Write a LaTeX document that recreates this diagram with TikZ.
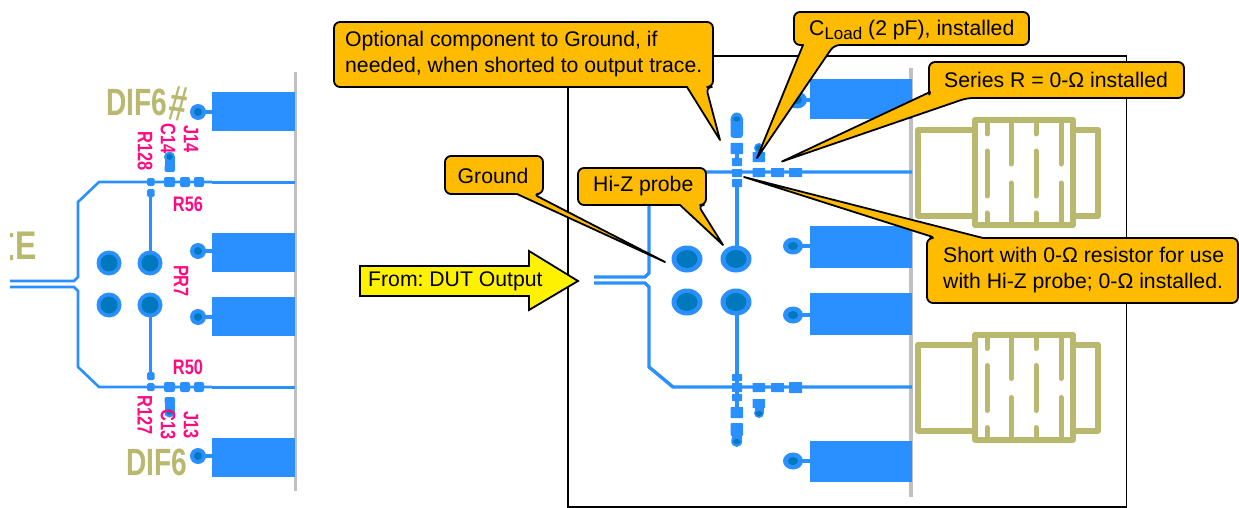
\documentclass[tikz,border=0pt]{standalone}
\usepackage{fontspec}
\setmainfont{Liberation Sans}
\definecolor{trace}{HTML}{2B90FF}
\definecolor{viain}{HTML}{0078BE}
\definecolor{khaki}{HTML}{B8B86E}
\definecolor{refpink}{HTML}{FF0A80}
\definecolor{calloutfill}{HTML}{FFBB00}
\definecolor{edgegray}{HTML}{C0C0C0}
\newcommand{\pcbpad}[3]{\fill[trace,rounded corners=#1] #2 rectangle #3;}
\newcommand{\bigvia}[2]{\fill[trace] (#1,#2) ellipse [x radius=15.5,y radius=13.5];\fill[viain] (#1,#2) ellipse [x radius=10.5,y radius=9];}
\newcommand{\smallvia}[2]{\fill[trace] (#1,#2) ellipse [x radius=10,y radius=8.5];\fill[trace] (#1,#2-2) rectangle (#1+18,#2+2);\fill[viain] (#1,#2) ellipse [x radius=5,y radius=4];}
\newcommand{\leftvia}[2]{\fill[trace] (#1,#2) circle (12.5);\fill[viain] (#1,#2) circle (8.5);}
\newcommand{\leftsmall}[2]{\fill[trace] (#1,#2) circle (8);\fill[trace] (#1,#2-2) rectangle (#1+15,#2+2);\fill[viain] (#1,#2) circle (4);}
\newcommand{\jack}[1]{
 \begin{scope}[yshift=-#1pt]
 \draw[khaki,line width=6pt,line join=round] (972,130)--(918,130)--(918,216)--(972,216);
 \draw[khaki,line width=6pt,line join=round] (1076,130)--(1098,130)--(1098,216)--(1076,216);
 \draw[khaki,line width=6pt,line join=round] (975,120) rectangle (1073,225);
 \draw[khaki,line width=5pt,line cap=round] (987,122)--(987,134) (987,151)--(987,196) (987,213)--(987,223)
   (1036,122)--(1036,134) (1036,151)--(1036,196) (1036,213)--(1036,223);
 \draw[khaki,line width=5pt,line cap=round] (1011,122)--(1011,164) (1011,183)--(1011,223)
   (1061,122)--(1061,164) (1061,183)--(1061,223);
 \end{scope}}
\tikzset{
 tr/.style={trace,line width=#1,line join=miter},
 tr/.default=2.6pt,
 refdes/.style={text=refpink,inner sep=0pt,font=\bfseries\fontsize{21}{21}\selectfont,xscale=0.78,transform shape},
 silk/.style={text=khaki,inner sep=0pt,transform shape},
 bubble/.style={draw=black,line width=1.8pt,fill=calloutfill,line join=round},
 bubbletext/.style={inner sep=0pt,align=left,anchor=west,font=\frenchspacing\fontsize{21.2}{26}\selectfont}
}
\begin{document}
\begin{tikzpicture}[x=1pt,y=-1pt]
\useasboundingbox (0,0) rectangle (1239,508);
% ---------- left board
\fill[edgegray] (294,72) rectangle (296.5,491);
\foreach \ya/\yb in {92/131,233/272,297/336,438/477} \fill[trace] (212,\ya) rectangle (295,\yb);
\leftsmall{198}{112}\leftsmall{198}{251}\leftsmall{198}{317}\leftsmall{198}{456}
\draw[tr] (10,281)--(74,281)--(78,277)--(78,202)--(99,182)--(212,182);
\draw[tr] (10,287)--(74,287)--(78,291)--(78,367)--(99,387)--(212,387);
\draw[trace,line width=3pt] (212,182)--(295,182) (212,387)--(295,387);
\draw[tr=3pt] (150.5,263)--(150.5,191) (150.5,305)--(150.5,378);
\leftvia{109}{263}\leftvia{150}{263}\leftvia{109}{305}\leftvia{150}{305}
\pcbpad{1.5}{(147,178)}{(154.5,186)}\pcbpad{1.5}{(147,189)}{(154.5,197)}
\pcbpad{1.5}{(147,372)}{(154.5,380)}\pcbpad{1.5}{(147,383)}{(154.5,391)}
\foreach \yy/\yz in {177/187,382/392}{
 \pcbpad{2}{(164,\yy)}{(175,\yz)}\pcbpad{2}{(180,\yy)}{(190,\yz)}\pcbpad{2}{(194,\yy)}{(204,\yz)}}
\pcbpad{2}{(164.5,165)}{(175,172)}\fill[trace] (169.5,157) circle (5.5);\fill[trace] (164.5,157) rectangle (174.5,168);\fill[viain] (169.5,157) circle (3);
\pcbpad{2}{(164.5,397)}{(175,404)}\fill[trace] (169.5,412) circle (5.5);\fill[trace] (164.5,400) rectangle (174.5,412);\fill[viain] (169.5,412) circle (3);
\node[silk,xscale=0.74,font=\bfseries\fontsize{38}{38}\selectfont] (dif6n) at (136.5,102) {DIF6};
\node[silk,rotate=-8,xscale=0.62,font=\bfseries\fontsize{50}{50}\selectfont] (hash) at (178,104) {\#};
\node[silk,xscale=0.74,font=\bfseries\fontsize{38}{38}\selectfont] (dif6) at (156.5,462) {DIF6};
\node[silk,xscale=0.8,font=\bfseries\fontsize{40}{40}\selectfont] (clipE) at (26,246) {E};
\fill[khaki] (10,233) rectangle (13,237) (10,255) rectangle (13,260);
\node[rotate=-90,refdes] (r128) at (145,151.5) {R128};
\node[rotate=-90,refdes] (c14) at (168,139) {C14};
\node[rotate=-90,refdes] (j14) at (191,139) {J14};
\node[refdes] (r56) at (188,204) {R56};
\node[rotate=-90,refdes] (pr7) at (181,281) {PR7};
\node[refdes] (r50) at (188,367) {R50};
\node[rotate=-90,refdes] (r127) at (145,415.5) {R127};
\node[rotate=-90,refdes] (c13) at (168,425) {C13};
\node[rotate=-90,refdes] (j13) at (191,425) {J13};
% ---------- right board
\draw[black,line width=1.5pt] (568,507.2)--(568,56)--(1126.5,56)--(1126.5,507.2)--cycle;
\fill[edgegray] (908.5,68) rectangle (913,497);
\foreach \ya/\yb in {79/119,226/268,293/335,441/482} \fill[trace] (810,\ya) rectangle (912,\yb);
\smallvia{797}{100}\smallvia{793}{246}\smallvia{793}{315}\smallvia{793}{461}
\draw[tr=3.4pt] (594,277)--(645,277)--(649,273)--(649,190)--(670,172)--(912,172);
\draw[tr=3.4pt] (594,283)--(645,283)--(649,287)--(649,367)--(673,387)--(912,387);
\draw[tr=4pt] (737,259)--(737,179) (737,302)--(737,394);
\bigvia{687}{259}\bigvia{736}{259}\bigvia{687}{302}\bigvia{736}{302}
% upper stub
\pcbpad{3}{(730.5,116)}{(743,138)}\fill[trace] (736.7,119.5) ellipse [x radius=6,y radius=7];\fill[viain] (736.7,119) ellipse [x radius=3.5,y radius=2.5];
\pcbpad{0.5}{(730.5,143)}{(743,154)}\fill[trace] (735,150) rectangle (739,160);
\pcbpad{0.5}{(732,158)}{(742,166)}\pcbpad{0.5}{(732,169)}{(742,177)}\pcbpad{0.5}{(732,179)}{(742,187)}
\fill[trace] (759,148) circle (5);\fill[viain] (759,148) circle (3);
\pcbpad{0.5}{(752.5,152)}{(765,162)}
\pcbpad{0.5}{(752.5,168)}{(765,177)}\pcbpad{0.5}{(771,168)}{(784,177)}\pcbpad{0.5}{(789,168)}{(802,177)}
% lower stub
\pcbpad{0.5}{(732,374)}{(742,381)}\pcbpad{0.5}{(732,383)}{(742,392)}\pcbpad{0.5}{(732,394)}{(742,401)}
\fill[trace] (735,400) rectangle (739,408);
\pcbpad{0.5}{(730.5,407)}{(743,418)}
\pcbpad{1}{(730.5,423)}{(743,436)}\fill[trace] (732,432) rectangle (742,441);\fill[trace] (736.7,441) ellipse [x radius=5.5,y radius=6];\fill[viain] (736.7,441.5) ellipse [x radius=3.5,y radius=2.5];
\pcbpad{0.5}{(752.5,399)}{(765,408)}\fill[trace] (754.5,405) rectangle (763.5,412);\fill[trace] (759,413) circle (5);\fill[viain] (759,413.5) ellipse [x radius=3.5,y radius=2.5];
\pcbpad{0.5}{(752.5,383)}{(765,392)}\pcbpad{0.5}{(771,383)}{(784,392)}\pcbpad{0.5}{(789,382)}{(802,393)}
% connectors
\jack{0}\jack{214.5}
% ---------- callouts
\draw[bubble,rounded corners=6pt] (334,22)--(713,22)--(713,87)--(706,87)[sharp corners]--(720,140)--(687,87)[rounded corners=6pt]--(334,87)--cycle;
\node[bubbletext] (opt) at (345,54.5) {Optional component to Ground, if\\needed, when shorted to output trace.};
\draw[bubble,rounded corners=6pt] (794,12)--(1029,12)--(1029,45)--(834,45)[sharp corners]--(757,158)--(803,45)[rounded corners=6pt]--(794,45)--cycle;
\node[bubbletext] (cload) at (809,30.5) {C\raisebox{-4pt}{\fontsize{17}{17}\selectfont Load} (2 pF), installed};
\draw[bubble,rounded corners=6pt] (929,62)--(1184,62)--(1184,98)--(967,98)[sharp corners]--(782,161.5)--(930,92)[rounded corners=6pt]--(929,98)--cycle;
\node[bubbletext] (series) at (944,80) {Series R = 0-Ω installed};
\draw[bubble,rounded corners=6pt] (927,303)--(927,238)--(936,238)[sharp corners]--(744,177)--(983,238)[rounded corners=6pt]--(1238,238)--(1238,303)--cycle;
\node[bubbletext] (short) at (943,270.5) {Short with 0-Ω resistor for use\\with Hi-Z probe; 0-Ω installed.};
\draw[bubble,rounded corners=6pt] (445,156)--(543,156)--(543,194)--(533,194)[sharp corners]--(665,262)--(517,194)[rounded corners=6pt]--(445,194)--cycle;
\node[bubbletext] (gnd) at (457.5,176) {Ground};
\draw[bubble,rounded corners=6pt] (578,168)--(706,168)--(706,205)--(698,205)[sharp corners]--(723,245)--(680,205)[rounded corners=6pt]--(578,205)--cycle;
\node[bubbletext] (hiz) at (593,186.5) {Hi-Z probe};
\draw[draw=black,line width=1.8pt,fill=yellow,line join=miter] (360,266)--(529,266)--(529,251)--(578,281)--(529,310)--(529,296)--(360,296)--cycle;
\node[bubbletext] (dut) at (368,281) {From: DUT Output};
\end{tikzpicture}
\end{document}
